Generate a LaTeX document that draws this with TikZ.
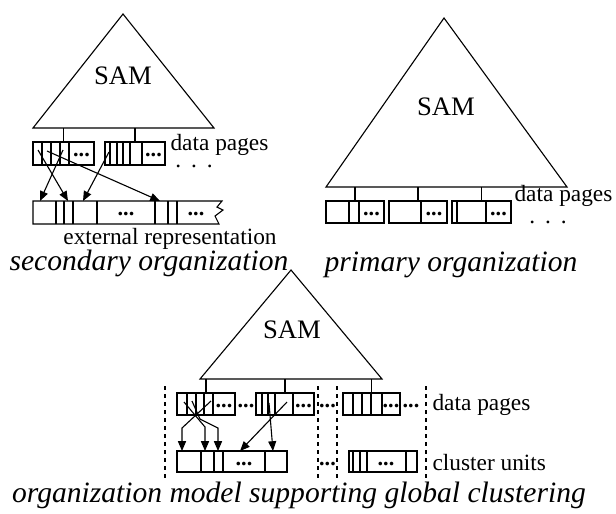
\documentclass[tikz,border=0pt]{standalone}
\usepackage{fontspec}
\setmainfont{Liberation Serif}[ItalicFont={Liberation Serif Italic}, BoldFont={Liberation Serif Bold}]
\usetikzlibrary{arrows.meta, calc}

% page box: name, left, right, top, bottom, divider positions
\newcommand{\pagebox}[6]{%
  \draw (#2,#4) rectangle (#3,#5);
  \foreach \d in {#6} \draw (\d,#4) -- (\d,#5);
  \coordinate (#1) at ({(#2+#3)/2},#4);
}

\begin{document}
\begin{tikzpicture}[x=0.45pt, y=-0.45pt, line width=0.5pt,
  txt/.style={font=\fontsize{10.5}{12}\selectfont, inner sep=0pt},
  samlbl/.style={font=\fontsize{12}{14}\selectfont, inner sep=0pt},
  orgcap/.style={font=\fontsize{13.3}{15}\selectfont\itshape, inner sep=0pt},
  dts/.style={font=\fontsize{10}{10}\selectfont\bfseries, inner sep=0pt},
  arr/.style={-{Triangle[length=4.4pt, width=3.6pt]}},
  sep/.style={dash pattern=on 2pt off 1.6pt}]
  \useasboundingbox (0,0) rectangle (616,513);

  % Secondary organization
  \coordinate (s1top) at (123,14);
  \coordinate (s1l) at (33,128);
  \coordinate (s1r) at (214,128);
  \draw (s1top) -- (s1r) -- (s1l) -- cycle;
  \node[samlbl] (sam1) at (123,76) {SAM};
  \pagebox{sp1}{33}{94}{142}{165}{42,51,60,69}
  \pagebox{sp2}{105}{165}{142}{165}{110,117,123,130,142}
  \draw (sp1) -- (sp1 |- s1l);
  \draw (sp2) -- (sp2 |- s1l);
  \node[dts] (sd1) at (81.5,155) {...};
  \node[dts] (sd2) at (153.5,155) {...};
  \node[txt, anchor=base west] (sdp) at (170,150) {data pages};
  \node[txt] (smore) at (194,166) {.\hspace{4.5pt}.\hspace{4.5pt}.};

  % external representation, torn at the right end
  \draw (33,201) -- (222,201) -- (217,207) -- (223,210) -- (215,216)
    -- (219,224) -- (33,224) -- cycle;
  \foreach \d in {56,64,73,97,155,168,177} \draw (\d,201) -- (\d,224);
  \node[dts] (sd3) at (126,214) {...};
  \node[dts] (sd4) at (196,214) {...};

  \coordinate (sa1) at (63,150);  \coordinate (sb1) at (40,201);
  \coordinate (sa2) at (38,150);  \coordinate (sb2) at (68,201);
  \coordinate (sa3) at (109,152); \coordinate (sb3) at (83,201);
  \coordinate (sa4) at (47,151);  \coordinate (sb4) at (160,201);
  \foreach \i in {1,...,4} \draw[arr] (sa\i) -- (sb\i);

  \node[txt] (ext) at (170,239) {external representation};
  \node[orgcap] (seccap) at (149,263) {secondary organization};

  % Primary organization
  \coordinate (p1top) at (444,18);
  \coordinate (p1l) at (326,187);
  \coordinate (p1r) at (567,187);
  \draw (p1top) -- (p1r) -- (p1l) -- cycle;
  \node[samlbl] (sam2) at (446,107) {SAM};
  \pagebox{pp1}{326}{384}{201}{223}{349,359}
  \pagebox{pp2}{389}{447}{201}{223}{421}
  \pagebox{pp3}{452}{511}{201}{223}{457,486}
  \foreach \p in {pp1,pp2,pp3} \draw (\p) -- (\p |- p1l);
  \node[dts] (pd1) at (371.5,214) {...};
  \node[dts] (pd2) at (434,214) {...};
  \node[dts] (pd3) at (498.5,214) {...};
  \node[txt, anchor=base west] (pdp) at (514,201) {data pages};
  \node[txt] (pmore) at (548,222) {.\hspace{4.5pt}.\hspace{4.5pt}.};
  \node[orgcap] (primcap) at (451,265) {primary organization};

  % Global clustering
  \coordinate (c1top) at (291,270);
  \coordinate (c1l) at (200,379);
  \coordinate (c1r) at (382,379);
  \draw (c1top) -- (c1r) -- (c1l) -- cycle;
  \node[samlbl] (sam3) at (292,330) {SAM};
  \pagebox{cp1}{177}{235}{393}{415}{187,196,204,213}
  \pagebox{cp2}{256}{314}{393}{415}{262,268,275,293}
  \pagebox{cp3}{343}{400}{393}{415}{353,362,371,382}
  \foreach \p in {cp1,cp2,cp3} \draw (\p) -- (\p |- c1l);
  \node[dts] (cd1) at (224,406) {...};
  \node[dts] (cd2) at (303.5,406) {...};
  \node[dts] (cd3) at (391,406) {...};
  \node[dts] (cg1) at (246,406) {...};
  \node[dts] (cg2) at (327.5,406) {...};
  \node[dts] (cg3) at (411,406) {...};
  \node[txt, anchor=west] (cdp) at (432,405) {data pages};

  \foreach \x in {165,318,337,426} \draw[sep] (\x,386) -- (\x,482);

  % cluster units
  \pagebox{cu1}{177}{287}{451}{472}{201,214,223,265}
  \pagebox{cu2}{349}{417}{451}{472}{353,360,367,406}
  \node[dts] (cud1) at (244,464) {...};
  \node[dts] (cud2) at (386,464) {...};
  \node[dts] (cug) at (327.5,464) {...};
  \node[txt, anchor=west] (cun) at (432,462) {cluster units};

  \coordinate (ca1) at (184,402); \coordinate (cb1) at (205,451);
  \coordinate (ca2) at (192,401); \coordinate (cb2) at (218,451);
  \coordinate (ca3) at (211,401); \coordinate (cb3) at (182,451);
  \coordinate (ca4) at (287,402); \coordinate (cb4) at (240,451);
  \coordinate (ca5) at (269,403); \coordinate (cb5) at (273,451);
  \draw[arr] (ca1) -- (205,427) -- (cb1);
  \draw[arr] (ca2) -- (200,419) -- (218,428) -- (cb2);
  \draw[arr] (ca3) -- (182,428) -- (cb3);
  \draw[arr] (ca4) -- (cb4);
  \draw[arr] (ca5) -- (cb5);

  \node[orgcap] (globcap) at (299,495) {organization model supporting global clustering};
\end{tikzpicture}
\end{document}
